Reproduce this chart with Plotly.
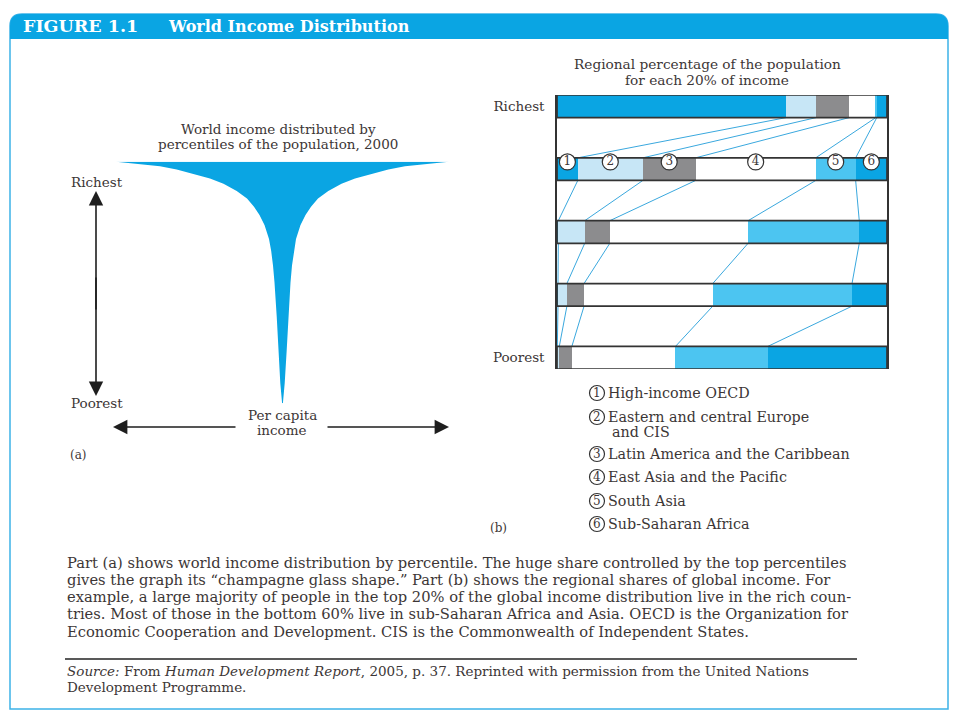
import plotly.graph_objects as go
from itertools import accumulate

W, H = 960, 720
def X(px): return px / W
def Y(py): return 1 - py / H

# ---------------- Panel (a): champagne glass ----------------
percentile = [0, 8.3, 22, 36, 50, 57, 63, 68, 73.8, 77.9, 81.4, 84.8, 87.9, 90.9, 93.0, 95.0, 96.8, 98.1, 98.9, 100]
income = [0.4, 2.2, 4.2, 5.8, 8.0, 9.5, 11.3, 13.5, 18, 23, 28.5, 35.5, 45.8, 59, 72.5, 89, 105.8, 122.5, 139, 166.5]

# ---------------- Panel (b): regional shares ----------------
quintile_labels = ["Richest", "Poorest"]
region_names = ["High-income OECD", "Eastern and central Europe<br>and CIS",
                "Latin America and the Caribbean", "East Asia and the Pacific",
                "South Asia", "Sub-Saharan Africa"]
region_no = ["1", "2", "3", "4", "5", "6"]
oecd = [69.4, 6.3, 0.4, 0.3, 0.1]
ee = [9.1, 19.7, 8.0, 2.7, 0.6]
la = [10.0, 16.0, 7.6, 5.2, 3.8]
ea = [8.1, 36.4, 41.9, 39.0, 31.4]
sa = [0.3, 12.1, 33.7, 42.2, 28.0]
ssa = [3.1, 9.5, 8.4, 10.6, 36.1]

BLUE = "#0aa5e3"
region_colors = [BLUE, "#c7e6f6", "#8c8c8e", "#ffffff", "#4cc5f1", BLUE]
TXT = "#3c3636"
SERIF = "DejaVu Serif"

fig = go.Figure()

# glass
fig.add_trace(go.Scatter(
    x=income + [-v for v in income[::-1]],
    y=percentile + percentile[::-1],
    mode="lines", fill="toself", fillcolor=BLUE, line=dict(width=0, color=BLUE),
    xaxis="x", yaxis="y", hoverinfo="skip", showlegend=False))

# stacked bars
HALF = 0.18
levels = list(range(5))
series = [oecd, ee, la, ea, sa, ssa]
for nm, vals, col in zip(region_names, series, region_colors):
    fig.add_trace(go.Bar(y=levels, x=vals, orientation="h", width=2 * HALF,
                         marker=dict(color=col, line=dict(width=0)),
                         xaxis="x2", yaxis="y2", hoverinfo="skip", showlegend=False))

# connector lines between consecutive bars
cums = [list(accumulate(row)) for row in zip(*series)]
xs, ys = [], []
for i in range(4):
    for k in range(5):
        xs += [cums[i][k], cums[i + 1][k], None]
        ys += [i + HALF, i + 1 - HALF, None]
fig.add_trace(go.Scatter(x=xs, y=ys, mode="lines", line=dict(color="#3aa8de", width=1),
                         xaxis="x2", yaxis="y2", hoverinfo="skip", showlegend=False))

# bar outlines
ox, oy = [], []
for i in levels:
    ox += [0, 100, 100, 0, 0, None]
    oy += [i - HALF, i - HALF, i + HALF, i + HALF, i - HALF, None]
fig.add_trace(go.Scatter(x=ox, y=oy, mode="lines", line=dict(color="#333", width=1.7),
                         xaxis="x2", yaxis="y2", hoverinfo="skip", showlegend=False))

# numbered circles on the second bar
cx = [cums[1][k] - series[k][1] / 2 for k in range(6)]
fig.add_trace(go.Scatter(x=cx, y=[1 - HALF + 0.065] * 6, mode="markers+text",
                         text=region_no, textposition="middle center",
                         textfont=dict(family=SERIF, size=12, color=TXT),
                         marker=dict(symbol="circle", size=16, color="white",
                                     line=dict(color="#333", width=1.2)),
                         xaxis="x2", yaxis="y2", hoverinfo="skip", showlegend=False))

shapes = []
ann = []

def rounded_top(x0, y0, x1, y1, r, close=True):
    p = (f"M {X(x0)},{Y(y1)} L {X(x0)},{Y(y0 + r)} Q {X(x0)},{Y(y0)} {X(x0 + r)},{Y(y0)} "
         f"L {X(x1 - r)},{Y(y0)} Q {X(x1)},{Y(y0)} {X(x1)},{Y(y0 + r)} L {X(x1)},{Y(y1)}")
    return p + (" Z" if close else "")

# outer frame and header band
shapes.append(dict(type="path", xref="paper", yref="paper", path=rounded_top(10, 14, 948, 709, 12),
                   line=dict(color="#3db3e8", width=1.5), fillcolor="rgba(0,0,0,0)", layer="below"))
shapes.append(dict(type="path", xref="paper", yref="paper", path=rounded_top(10, 14, 948, 39, 12),
                   line=dict(width=0), fillcolor=BLUE, layer="below"))
# rule above source
shapes.append(dict(type="line", xref="paper", yref="paper", x0=X(65), x1=X(857), y0=Y(659), y1=Y(659),
                   line=dict(color="#222", width=1.5)))

# header text
ann.append(dict(x=X(21), y=Y(26.5), xref="paper", yref="paper", xanchor="left", yanchor="middle",
                text="<b>FIGURE 1.1</b>", showarrow=False,
                font=dict(family=SERIF, size=17.5, color="white")))
ann.append(dict(x=X(166), y=Y(26.5), xref="paper", yref="paper", xanchor="left", yanchor="middle",
                text="<b>World Income Distribution</b>", showarrow=False,
                font=dict(family=SERIF, size=16, color="white")))

def txt(x, y, s, size=12, anchor="center", fam=SERIF, color=TXT):
    ann.append(dict(x=X(x), y=Y(y), xref="paper", yref="paper", xanchor=anchor, yanchor="middle",
                    text=s, showarrow=False, font=dict(family=fam, size=size, color=color)))

# panel (a) texts
txt(278, 129, "World income distributed by", 13.5)
txt(278, 144, "percentiles of the population, 2000", 13.5)
txt(69, 182, "Richest", 13.5, "left")
txt(69, 403, "Poorest", 13.5, "left")
txt(282, 415, "Per capita", 13.5)
txt(282, 430, "income", 13.5)
txt(68, 455, "(a)", 12, "left")

def arrow(hx, hy, dx, dy):
    ann.append(dict(x=X(hx), y=Y(hy), xref="paper", yref="paper", ax=dx, ay=dy, text="",
                    showarrow=True, arrowhead=2, arrowsize=1.8, arrowwidth=1.6, arrowcolor="#1e1e1e"))

arrow(96, 191, 0, 120)
arrow(96, 396, 0, -120)
arrow(113, 427, 124, 0)
arrow(449, 427, -123, 0)

# panel (b) texts
txt(707, 64, "Regional percentage of the population", 13.7)
txt(707, 80, "for each 20% of income", 13.7)
txt(498, 528, "(b)", 12, "center")

legend_y = [393, 417, 454, 477, 501, 524]
for num, nm, ly in zip(region_no, region_names, legend_y):
    shapes.append(dict(type="circle", xref="paper", yref="paper", xsizemode="pixel", ysizemode="pixel",
                       xanchor=X(597), yanchor=Y(ly), x0=-7.5, x1=7.5, y0=-7.5, y1=7.5,
                       line=dict(color="#333", width=1.2), fillcolor="white"))
    txt(597, ly, num, 12)
    for j, part in enumerate(nm.split("<br>")):
        txt(606 if j == 0 else 610, ly + 15 * j, part, 14.3, "left")

# caption
caption = [
    "Part (a) shows world income distribution by percentile. The huge share controlled by the top percentiles",
    "gives the graph its \u201cchampagne glass shape.\u201d Part (b) shows the regional shares of global income. For",
    "example, a large majority of people in the top 20% of the global income distribution live in the rich coun-",
    "tries. Most of those in the bottom 60% live in sub-Saharan Africa and Asia. OECD is the Organization for",
    "Economic Cooperation and Development. CIS is the Commonwealth of Independent States.",
]
for i, line in enumerate(caption):
    txt(65, 562 + 17.3 * i, line, 14.7, "left")

source = [
    "<i>Source:</i> From <i>Human Development Report</i>, 2005, p. 37. Reprinted with permission from the United Nations",
    "Development Programme.",
]
for i, line in enumerate(source):
    txt(65, 671 + 16 * i, line, 13.5, "left")

noaxis = dict(visible=False, fixedrange=True)
fig.update_layout(
    width=W, height=H, margin=dict(l=0, r=0, t=0, b=0),
    paper_bgcolor="white", plot_bgcolor="rgba(0,0,0,0)",
    barmode="stack", bargap=0, showlegend=False, hovermode=False,
    xaxis=dict(domain=[X(116), X(449)], range=[-166.5, 166.5], anchor="y", **noaxis),
    yaxis=dict(domain=[Y(403.3), Y(161.7)], range=[0, 100], anchor="x", **noaxis),
    xaxis2=dict(domain=[X(557), X(887)], range=[0, 100], anchor="y2", showline=False,
                showgrid=False, zeroline=False, showticklabels=False, ticks="", fixedrange=True),
    yaxis2=dict(domain=[Y(369), Y(95)], range=[4 + HALF, -HALF], anchor="x2", showline=True, mirror=True,
                linecolor="#333", linewidth=1.5, showgrid=False, zeroline=False,
                tickvals=[0, 4], ticktext=quintile_labels, ticks="", ticklabelstandoff=8,
                tickfont=dict(family=SERIF, size=13.5, color=TXT), fixedrange=True),
    shapes=shapes, annotations=ann,
)

fig.write_html("out.html", config={"displayModeBar": False},
               post_script="document.body.style.margin='0';")
